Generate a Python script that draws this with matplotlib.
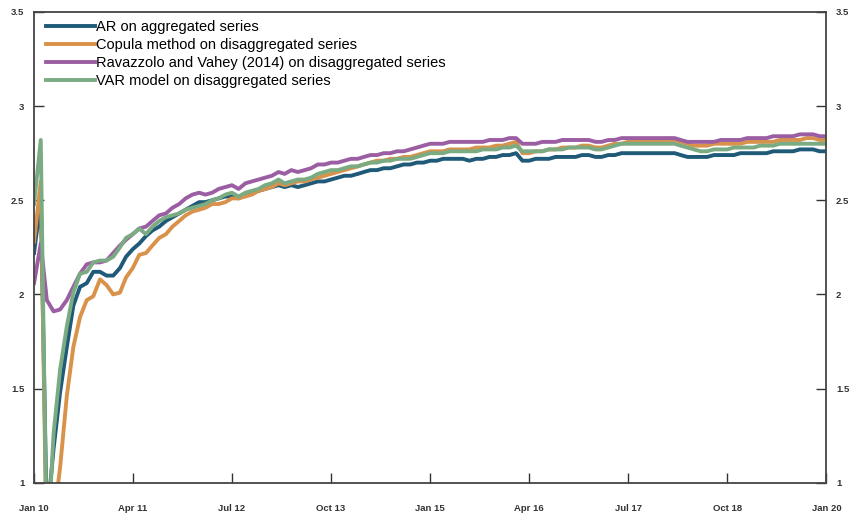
import matplotlib
matplotlib.use("Agg")
import matplotlib.pyplot as plt
import matplotlib.dates as mdates
import matplotlib.font_manager as fm
import pandas as pd
import numpy as np

plt.rcParams['font.family'] = ['Liberation Sans', 'DejaVu Sans']

dates = pd.date_range('2010-01-01', '2020-01-01', freq='MS')

ar = [2.22, 2.50, 0.80, 1.18, 1.48, 1.72, 1.94, 2.04, 2.06, 2.12,
      2.12, 2.10, 2.10, 2.14, 2.20, 2.24, 2.27, 2.31, 2.34, 2.36,
      2.39, 2.41, 2.43, 2.45, 2.47, 2.49, 2.49, 2.50, 2.51, 2.52,
      2.52, 2.51, 2.53, 2.54, 2.55, 2.56, 2.57, 2.58, 2.57, 2.58,
      2.57, 2.58, 2.59, 2.60, 2.60, 2.61, 2.62, 2.63, 2.63, 2.64,
      2.65, 2.66, 2.66, 2.67, 2.67, 2.68, 2.69, 2.69, 2.70, 2.70,
      2.71, 2.71, 2.72, 2.72, 2.72, 2.72, 2.71, 2.72, 2.72, 2.73,
      2.73, 2.74, 2.74, 2.75, 2.71, 2.71, 2.72, 2.72, 2.72, 2.73,
      2.73, 2.73, 2.73, 2.74, 2.74, 2.73, 2.73, 2.74, 2.74, 2.75,
      2.75, 2.75, 2.75, 2.75, 2.75, 2.75, 2.75, 2.75, 2.74, 2.73,
      2.73, 2.73, 2.73, 2.74, 2.74, 2.74, 2.74, 2.75, 2.75, 2.75,
      2.75, 2.75, 2.76, 2.76, 2.76, 2.76, 2.77, 2.77, 2.77, 2.76,
      2.76]

copula = [2.28, 2.60, 0.55, 0.80, 1.08, 1.46, 1.72, 1.88, 1.97, 1.99,
          2.08, 2.05, 2.00, 2.01, 2.09, 2.14, 2.21, 2.22, 2.26, 2.30,
          2.32, 2.36, 2.39, 2.42, 2.44, 2.45, 2.46, 2.48, 2.48, 2.49,
          2.51, 2.51, 2.52, 2.53, 2.55, 2.56, 2.57, 2.59, 2.58, 2.59,
          2.60, 2.60, 2.61, 2.62, 2.63, 2.64, 2.65, 2.66, 2.67, 2.68,
          2.69, 2.70, 2.71, 2.71, 2.72, 2.72, 2.73, 2.73, 2.74, 2.75,
          2.76, 2.76, 2.76, 2.77, 2.77, 2.77, 2.77, 2.78, 2.78, 2.78,
          2.79, 2.79, 2.80, 2.81, 2.75, 2.75, 2.76, 2.76, 2.77, 2.77,
          2.78, 2.78, 2.78, 2.79, 2.79, 2.78, 2.78, 2.79, 2.80, 2.80,
          2.81, 2.81, 2.81, 2.81, 2.81, 2.81, 2.82, 2.82, 2.81, 2.80,
          2.79, 2.79, 2.79, 2.80, 2.80, 2.80, 2.80, 2.80, 2.81, 2.81,
          2.81, 2.81, 2.81, 2.82, 2.82, 2.82, 2.82, 2.83, 2.83, 2.82,
          2.82]

ravazzolo = [2.06, 2.27, 1.97, 1.91, 1.92, 1.97, 2.04, 2.11, 2.16, 2.17,
             2.17, 2.18, 2.22, 2.26, 2.29, 2.32, 2.35, 2.36, 2.39, 2.42,
             2.43, 2.46, 2.48, 2.51, 2.53, 2.54, 2.53, 2.54, 2.56, 2.57,
             2.58, 2.56, 2.59, 2.60, 2.61, 2.62, 2.63, 2.65, 2.64, 2.66,
             2.65, 2.66, 2.67, 2.69, 2.69, 2.70, 2.70, 2.71, 2.72, 2.72,
             2.73, 2.74, 2.74, 2.75, 2.75, 2.76, 2.76, 2.77, 2.78, 2.79,
             2.80, 2.80, 2.80, 2.81, 2.81, 2.81, 2.81, 2.81, 2.81, 2.82,
             2.82, 2.82, 2.83, 2.83, 2.80, 2.80, 2.80, 2.81, 2.81, 2.81,
             2.82, 2.82, 2.82, 2.82, 2.82, 2.81, 2.81, 2.82, 2.82, 2.83,
             2.83, 2.83, 2.83, 2.83, 2.83, 2.83, 2.83, 2.83, 2.82, 2.81,
             2.81, 2.81, 2.81, 2.81, 2.82, 2.82, 2.82, 2.82, 2.83, 2.83,
             2.83, 2.83, 2.84, 2.84, 2.84, 2.84, 2.85, 2.85, 2.85, 2.84,
             2.84]

var = [2.48, 2.82, 0.60, 1.26, 1.60, 1.83, 2.01, 2.11, 2.12, 2.17,
       2.18, 2.18, 2.20, 2.25, 2.30, 2.32, 2.35, 2.32, 2.36, 2.39,
       2.41, 2.42, 2.43, 2.45, 2.46, 2.47, 2.48, 2.50, 2.51, 2.53,
       2.54, 2.52, 2.54, 2.55, 2.56, 2.58, 2.59, 2.61, 2.59, 2.60,
       2.61, 2.61, 2.62, 2.64, 2.65, 2.66, 2.66, 2.67, 2.68, 2.68,
       2.69, 2.70, 2.70, 2.71, 2.71, 2.72, 2.72, 2.72, 2.73, 2.74,
       2.75, 2.75, 2.75, 2.76, 2.76, 2.76, 2.76, 2.76, 2.77, 2.77,
       2.77, 2.78, 2.78, 2.79, 2.76, 2.76, 2.76, 2.76, 2.77, 2.77,
       2.77, 2.78, 2.78, 2.78, 2.78, 2.77, 2.77, 2.78, 2.79, 2.80,
       2.80, 2.80, 2.80, 2.80, 2.80, 2.80, 2.80, 2.80, 2.79, 2.78,
       2.77, 2.76, 2.76, 2.77, 2.77, 2.77, 2.78, 2.78, 2.78, 2.78,
       2.79, 2.79, 2.79, 2.80, 2.80, 2.80, 2.80, 2.80, 2.80, 2.80,
       2.80]

labels = ['AR on aggregated series',
          'Copula method on disaggregated series',
          'Ravazzolo and Vahey (2014) on disaggregated series',
          'VAR model on disaggregated series']
colors = ['#1f5a78', '#d9924a', '#9b5ea3', '#7aab82']

yticks = [1, 1.5, 2, 2.5, 3, 3.5]
yticklabels = ['1', '1.5', '2', '2.5', '3', '3.5']
xtick_dates = pd.date_range('2010-01-01', '2020-01-01', freq='15MS')

installed = {f.name for f in fm.fontManager.ttflist}
tick_family = ['Liberation Sans Narrow'] if 'Liberation Sans Narrow' in installed else ['Liberation Sans']
tick_family = tick_family + ['DejaVu Sans']
tick_size = 7.5 if tick_family[0] == 'Liberation Sans Narrow' else 6.8

fig = plt.figure(figsize=(8.51, 5.18), dpi=100)
ax = fig.add_axes([0.040, 0.068, 0.931, 0.909])

for series, lab, col in zip([ar, copula, ravazzolo, var], labels, colors):
    ax.plot(dates, series, color=col, lw=2.8, label=lab, solid_joinstyle='round')

ax.set_xlim(dates[0], dates[-1])
ax.set_ylim(1, 3.5)
ax.set_yticks(yticks)
ax.set_yticklabels(yticklabels)
ax.set_xticks(xtick_dates)
ax.xaxis.set_major_formatter(mdates.DateFormatter('%b %y'))

ax.tick_params(axis='x', direction='in', length=7, width=1, pad=15,
               colors='#333333')
ax.tick_params(axis='y', direction='in', length=7, width=1, pad=7,
               left=True, right=True, labelleft=True,
               labelright=True, colors='#333333')
for lbl in ax.get_xticklabels():
    lbl.set_fontweight('bold')
    lbl.set_family(tick_family)
    lbl.set_fontsize(tick_size)
for t in ax.yaxis.get_major_ticks():
    for l in (t.label1, t.label2):
        l.set_fontweight('bold')
        l.set_family(tick_family)
        l.set_fontsize(tick_size)
for s in ax.spines.values():
    s.set_color('#444444')
    s.set_linewidth(1.3)

leg = ax.legend(loc='upper left', frameon=False, fontsize=10.55,
                handlelength=3.3, handletextpad=0.1, labelspacing=0.27,
                borderaxespad=0.0, bbox_to_anchor=(0.008, 0.995))

fig.savefig('out.png', dpi=100)
